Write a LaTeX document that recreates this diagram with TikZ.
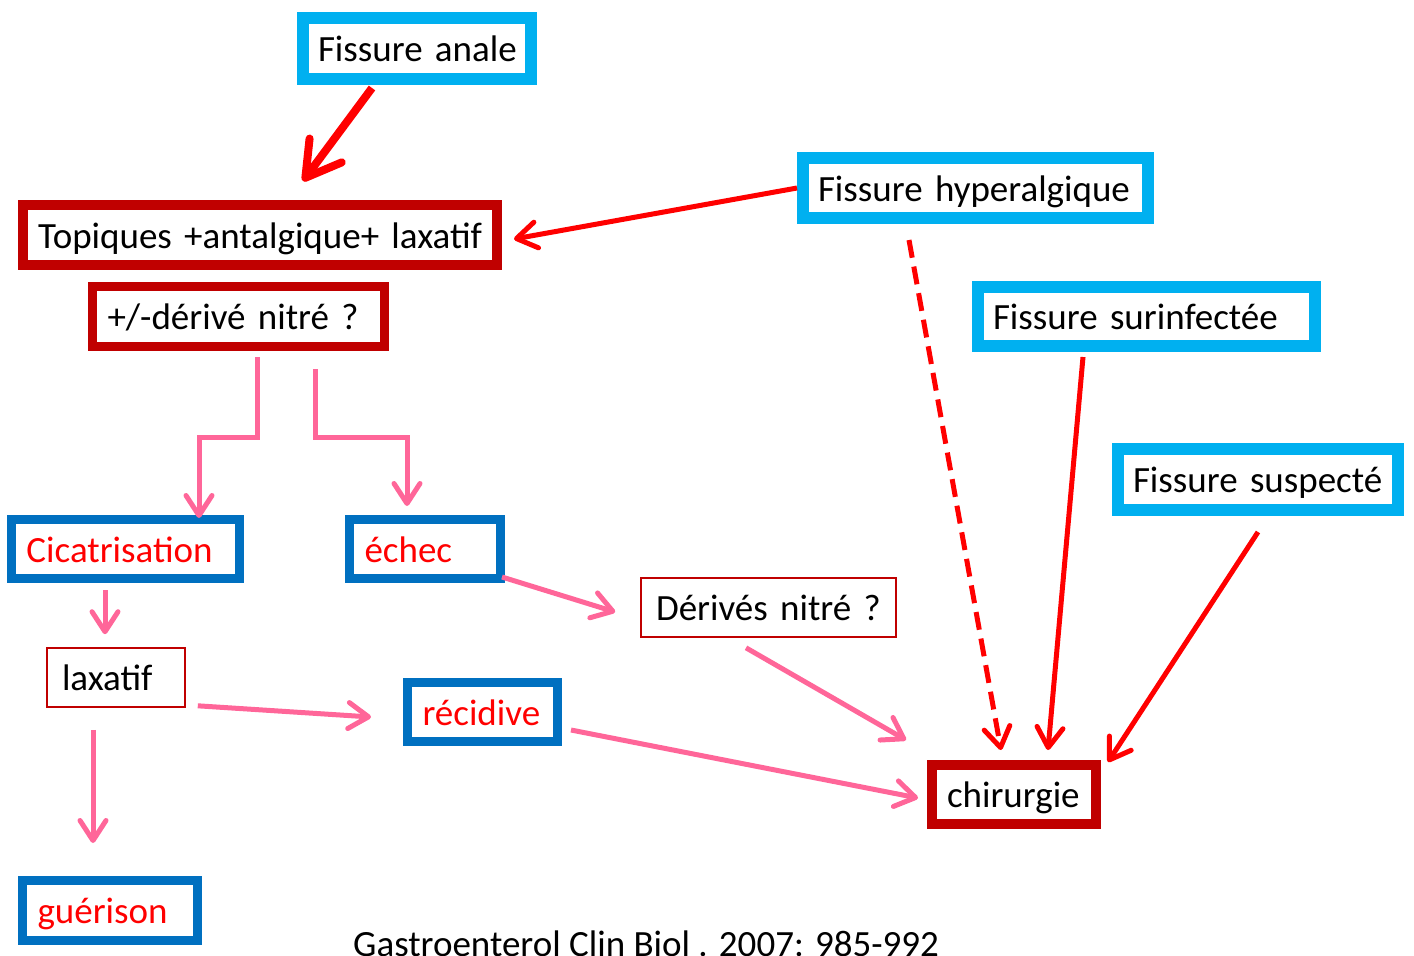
\documentclass[tikz,border=0pt]{standalone}
\usepackage{fontspec}
\setmainfont{Carlito}
\usetikzlibrary{arrows.meta}
\definecolor{cyanfs}{HTML}{00B0F0}
\definecolor{rougefonce}{HTML}{C00000}
\definecolor{bleufs}{HTML}{0070C0}
\definecolor{rosefs}{HTML}{FF6699}

\begin{document}
\begin{tikzpicture}[x=1pt,y=-1pt,
every node/.style={
	% The text:
	font=\fontsize{37}{44}\selectfont,
	text height=26pt,text depth=0pt,
	% The padding:
	inner xsep=15pt,inner ysep=0pt,
	fill=white},
clair/.style={
	% light blue frame, thick
	draw=cyanfs,line width=12pt},
fonce/.style={
	% dark red frame
	draw=rougefonce,line width=10pt},
bleu/.style={
	% blue frame, red text
	draw=bleufs,line width=9pt,text=red},
fin/.style={
	% thin red frame
	draw=rougefonce,line width=1.6pt},
flecherouge/.style={draw=red,line width=5pt,
	-{Straight Barb[round,length=20pt,width=26pt]}},
flecherose/.style={draw=rosefs,line width=5pt,
	-{Straight Barb[round,length=20pt,width=26pt]}}]

\useasboundingbox (0,0) rectangle (1414,956);

%Begin nodes
\node (anale) [clair,text width=198pt,minimum height=61pt] at (417,48.5) {\mbox{Fissure anale}};
\node (topiques) [fonce,text width=444pt,minimum height=60pt] at (260,235) {\mbox{Topiques +antalgique+ laxatif}};
\node (nitre) [fonce,line width=9pt,text width=262pt,minimum height=60pt] at (238.5,316.5) {\mbox{+/-dérivé nitré ?}};
\node (hyper) [clair,text width=315pt,minimum height=60pt] at (975.5,188) {\mbox{Fissure hyperalgique}};
\node (surinf) [clair,text width=307pt,minimum height=59pt] at (1146.5,316.5) {\mbox{Fissure surinfectée}};
\node (suspect) [clair,text width=250pt,minimum height=61pt] at (1258,479.5) {\mbox{Fissure suspecté}};
\node (cicat) [bleu,text width=198pt,minimum height=59pt] at (125.5,549) {Cicatrisation};
\node (echec) [bleu,text width=121pt,minimum height=59pt] at (425,549) {échec};
\node (derives) [fin,text width=225pt,minimum height=59pt] at (768.5,607.5) {\mbox{Dérivés nitré ?}};
\node (laxatif) [fin,text width=108pt,minimum height=59pt] at (116,677.5) {laxatif};
\node (recidive) [bleu,text width=120pt,minimum height=59pt] at (482.5,712) {récidive};
\node (chir) [fonce,text width=134pt,minimum height=59pt] at (1014,794.5) {chirurgie};
\node (guer) [bleu,text width=145pt,minimum height=60pt] at (110,910.5) {guérison};
\node (source) [anchor=base west,fill=none,inner sep=0pt] at (353,956) {Gastroenterol Clin Biol . 2007: 985-992};
%End nodes

% red arrows
\draw[flecherouge,line width=8pt,-{Straight Barb[round,length=34pt,width=40pt]}]
	([xshift=-45pt,yshift=-3pt]anale.south) -- ([xshift=43pt,yshift=19pt]topiques.north);
\draw[flecherouge] (hyper.west) -- ([xshift=12pt,yshift=-4pt]topiques.east);
\draw[flecherouge,dash pattern=on 18pt off 9pt]
	([xshift=-66.5pt,yshift=-16pt]hyper.south) -- ([xshift=-13pt,yshift=10pt]chir.north);
\draw[flecherouge] ([xshift=-63.5pt,yshift=-5pt]surinf.south) -- ([xshift=34pt,yshift=10pt]chir.north);
\draw[flecherouge] ([yshift=-16pt]suspect.south) -- ([xshift=7pt,yshift=-2pt]chir.north east);

% pink arrows
\draw[flecherose] ([xshift=18.5pt,yshift=-6pt]nitre.south) -- ++(0,80) -| ([xshift=73.5pt,yshift=-3pt]cicat.north);
\draw[flecherose] ([xshift=76.5pt,yshift=-18pt]nitre.south) -- ++(0,68) -| ([xshift=-18pt,yshift=9pt]echec.north);
\draw[flecherose] ([xshift=-20.5pt,yshift=-7pt]cicat.south) -- ([xshift=-11pt,yshift=13pt]laxatif.north);
\draw[flecherose] ([xshift=-23pt,yshift=-22pt]laxatif.south) -- ([xshift=-17pt,yshift=33pt]guer.north);
\draw[flecherose] ([xshift=12pt,yshift=2pt]laxatif.south east) -- ([xshift=-32pt,yshift=-5pt]recidive.west);
\draw[flecherose] ([xshift=-3pt,yshift=6pt]echec.south east) -- ([xshift=-25pt,yshift=-4.5pt]derives.west);
\draw[flecherose] ([xshift=-22.5pt,yshift=-10pt]derives.south) -- ([xshift=-21pt,yshift=20pt]chir.north west);
\draw[flecherose] ([xshift=9pt,yshift=-18pt]recidive.east) -- ([xshift=-9pt,yshift=-3.5pt]chir.west);

\end{tikzpicture}
\end{document}
